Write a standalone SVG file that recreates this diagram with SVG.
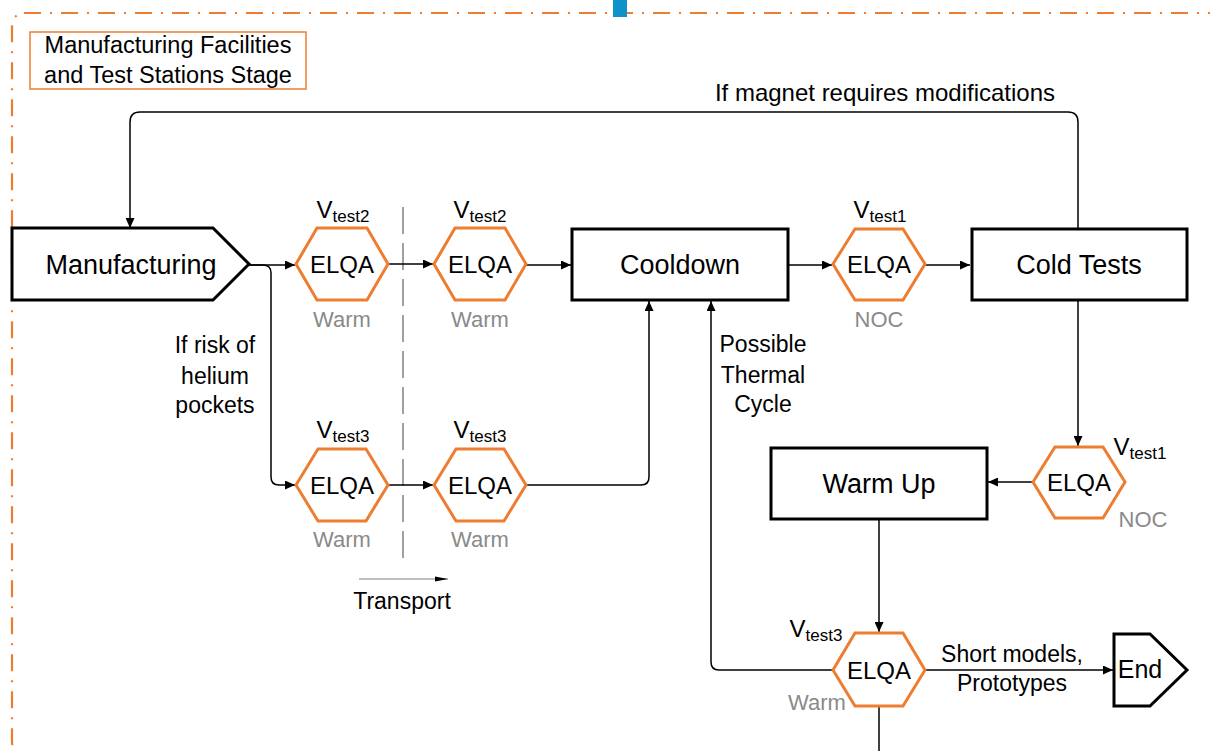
<svg xmlns="http://www.w3.org/2000/svg" width="1210" height="751" viewBox="0 0 1210 751">
<style>
text{font-family:"Liberation Sans",Arial,sans-serif;fill:#000}
.node{fill:#fff;stroke:#000;stroke-width:3;stroke-linejoin:miter}
.hex{fill:#fff;stroke:#ED7D31;stroke-width:3}
.nl{font-size:27px;text-anchor:middle}
.el{font-size:24px;text-anchor:middle}
.lb{font-size:23px;text-anchor:middle}
.st{font-size:22px;text-anchor:middle;fill:#8a8a8a}
.v{font-size:24px;text-anchor:middle}
.sub{font-size:17px}
.con path{fill:none;stroke:#000;stroke-width:1.5}
</style>
<defs>
<marker id="ah" markerUnits="userSpaceOnUse" markerWidth="11" markerHeight="9" refX="10" refY="4.5" orient="auto">
<path d="M0,0 L10,4.5 L0,9 z" fill="#000"/>
</marker>
<marker id="ahs" markerUnits="userSpaceOnUse" markerWidth="14" markerHeight="6" refX="13" refY="3" orient="auto">
<path d="M0,0.5 L13,3 L0,5.5 z" fill="#000"/>
</marker>
</defs>
<rect width="1210" height="751" fill="#fff"/>
<g id="stage-border">
<rect x="12" y="13" width="1230" height="741" rx="12" fill="none" stroke="#ED7D31" stroke-width="2.2" stroke-dasharray="17 9 2 9"/>
<rect x="613" y="0" width="14" height="17" fill="#0E93C8"/>
</g>
<g id="stage-label">
<rect x="30" y="32" width="276" height="57" fill="#fff" stroke="#ED7D31" stroke-width="1.5"/>
<text x="168" y="53" class="lb" style="font-size:23.5px">Manufacturing Facilities</text>
<text x="168" y="83" class="lb" style="font-size:23.5px">and Test Stations Stage</text>
</g>
<g id="transport-divider">
<path d="M403,207 V566" stroke="#a0a0a0" stroke-width="2" stroke-dasharray="27 9" fill="none"/>
<path d="M359,579 H448" stroke="#808080" stroke-width="1" fill="none" marker-end="url(#ahs)"/>
<text x="402" y="609" class="lb">Transport</text>
</g>
<g class="con" id="connectors">
<path d="M1078,229 V122 Q1078,112 1068,112 H140 Q130,112 130,122 V228" marker-end="url(#ah)"/>
<path d="M249,265 H295" marker-end="url(#ah)"/>
<path d="M249,265 H263 Q271,265 271,273 V477 Q271,485 279,485 H295" marker-end="url(#ah)"/>
<path d="M388,264 H433" marker-end="url(#ah)"/>
<path d="M526,265 H571" marker-end="url(#ah)"/>
<path d="M388,485 H433" marker-end="url(#ah)"/>
<path d="M526,485 H641 Q649,485 649,477 V301" marker-end="url(#ah)"/>
<path d="M788,265 H832" marker-end="url(#ah)"/>
<path d="M925,265 H970" marker-end="url(#ah)"/>
<path d="M1078,300 V446" marker-end="url(#ah)"/>
<path d="M1033,482 H988" marker-end="url(#ah)"/>
<path d="M879,519 V632" marker-end="url(#ah)"/>
<path d="M879,706 V751"/>
<path d="M925,670 H1113" marker-end="url(#ah)"/>
<path d="M833,670 H719 Q711,670 711,662 V301" marker-end="url(#ah)"/>
<text x="885" y="101" class="lb" style="font-size:24px">If magnet requires modifications</text>
<text x="215" y="353" class="lb">If risk of</text>
<text x="215" y="384" class="lb">helium</text>
<text x="215" y="413" class="lb">pockets</text>
<text x="763" y="352" class="lb">Possible</text>
<text x="763" y="383" class="lb">Thermal</text>
<text x="763" y="412" class="lb">Cycle</text>
<text x="1012" y="662" class="lb">Short models,</text>
<text x="1012" y="691" class="lb">Prototypes</text>
</g>
<g id="manufacturing">
<polygon class="node" points="12,228 213,228 249,264 213,300 12,300"/>
<text x="131" y="274" class="nl">Manufacturing</text>
</g>
<g id="elqa-1">
<polygon class="hex" points="296,264 317,228 367,228 388,264 367,300 317,300"/>
<text x="342" y="273" class="el">ELQA</text>
<text x="343" y="218" class="v">V<tspan class="sub" dy="4">test2</tspan></text>
<text x="342" y="327" class="st">Warm</text>
</g>
<g id="elqa-2">
<polygon class="hex" points="434,264 455,228 505,228 526,264 505,300 455,300"/>
<text x="480" y="273" class="el">ELQA</text>
<text x="480" y="218" class="v">V<tspan class="sub" dy="4">test2</tspan></text>
<text x="480" y="327" class="st">Warm</text>
</g>
<g id="elqa-3">
<polygon class="hex" points="296,485 318,449 366,449 388,485 366,521 318,521"/>
<text x="342" y="494" class="el">ELQA</text>
<text x="343" y="438" class="v">V<tspan class="sub" dy="4">test3</tspan></text>
<text x="342" y="547" class="st">Warm</text>
</g>
<g id="elqa-4">
<polygon class="hex" points="434,485 456,449 504,449 526,485 504,521 456,521"/>
<text x="480" y="494" class="el">ELQA</text>
<text x="480" y="438" class="v">V<tspan class="sub" dy="4">test3</tspan></text>
<text x="480" y="547" class="st">Warm</text>
</g>
<g id="cooldown">
<rect class="node" x="572" y="229" width="216" height="71"/>
<text x="680" y="274" class="nl">Cooldown</text>
</g>
<g id="elqa-5">
<polygon class="hex" points="833,264 855,229 903,229 925,264 903,300 855,300"/>
<text x="879" y="273" class="el">ELQA</text>
<text x="880" y="218" class="v">V<tspan class="sub" dy="4">test1</tspan></text>
<text x="879" y="327" class="st">NOC</text>
</g>
<g id="cold-tests">
<rect class="node" x="972" y="229" width="215" height="71"/>
<text x="1079" y="274" class="nl">Cold Tests</text>
</g>
<g id="elqa-6">
<polygon class="hex" points="1033,482 1055,447 1103,447 1125,482 1103,518 1055,518"/>
<text x="1079" y="491" class="el">ELQA</text>
<text x="1140" y="455" class="v">V<tspan class="sub" dy="4">test1</tspan></text>
<text x="1143" y="527" class="st">NOC</text>
</g>
<g id="warm-up">
<rect class="node" x="771" y="448" width="216" height="71"/>
<text x="879" y="493" class="nl">Warm Up</text>
</g>
<g id="elqa-7">
<polygon class="hex" points="833,670 855,633 903,633 925,670 903,706 855,706"/>
<text x="879" y="679" class="el">ELQA</text>
<text x="816" y="637" class="v">V<tspan class="sub" dy="4">test3</tspan></text>
<text x="817" y="710" class="st">Warm</text>
</g>
<g id="end">
<polygon class="node" points="1114,634 1150,634 1187,670 1150,706 1114,706"/>
<text x="1140" y="678" style="font-size:25px;text-anchor:middle">End</text>
</g>
</svg>
